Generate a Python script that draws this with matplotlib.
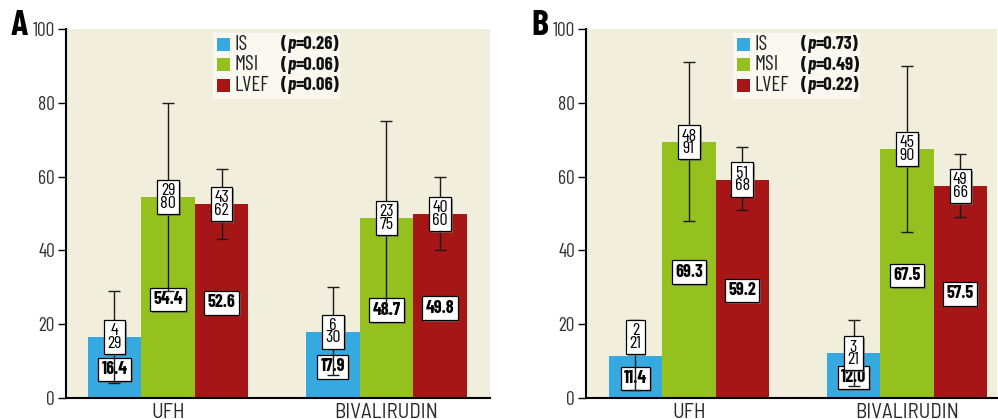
import matplotlib
matplotlib.use("Agg")
import matplotlib.pyplot as plt
import matplotlib.patheffects as pe
from matplotlib.patches import Rectangle
from matplotlib.transforms import Affine2D

plt.rcParams['font.family'] = ['Barlow Condensed', 'Liberation Sans Narrow', 'DejaVu Sans']

groups = ["UFH", "BIVALIRUDIN"]
measures = ["IS", "MSI", "LVEF"]
colors = ["#36a9e1", "#95c11f", "#a61616"]

# Panel A: median values with min / max range
a_is = [16.4, 17.9]
a_msi = [54.4, 48.7]
a_lvef = [52.6, 49.8]
a_low = [[4, 6], [29, 23], [43, 40]]
a_high = [[29, 30], [80, 75], [62, 60]]
a_p = ["0.26", "0.06", "0.06"]

# Panel B
b_is = [11.4, 12.0]
b_msi = [69.3, 67.5]
b_lvef = [59.2, 57.5]
b_low = [[2, 3], [48, 45], [51, 49]]
b_high = [[21, 21], [91, 90], [68, 66]]
b_p = ["0.73", "0.49", "0.22"]

W, H = 998, 419
fig = plt.figure(figsize=(W / 100, H / 100), dpi=100)
# figure pixels, measured from the top left corner
pix = Affine2D().scale(1 / 100, -1 / 100).translate(0, H / 100) + fig.dpi_scale_trans
renderer = fig.canvas.get_renderer()

bar_w = 0.245


def boxed(ax, x, y, s, bold, z):
    t = ax.text(x, y, s, ha="center", va="center", fontsize=13,
                fontweight="bold" if bold else "normal", linespacing=0.8,
                zorder=z, color="black",
                bbox=dict(boxstyle="square,pad=0.18", fc="white", ec="black", lw=0.9))
    t.get_bbox_patch().set_path_effects(
        [pe.SimplePatchShadow(offset=(1.3, -1.3), shadow_rgbFace="0.45", alpha=0.7), pe.Normal()])


def panel(left, right, xlim, letter, means, lows, highs, pvals, lift):
    ax = fig.add_axes([left / W, (H - 397.5) / H, (right - left) / W, 368.2 / H])
    ax.set_facecolor("#f2eedc")
    for i, vals in enumerate(means):
        xs = [g + (i - 1) * bar_w for g in range(len(groups))]
        ax.bar(xs, vals, width=bar_w, color=colors[i], zorder=2)
        for g, x in enumerate(xs):
            m = vals[g]
            ax.errorbar(x, m, yerr=[[m - lows[i][g]], [highs[i][g] - m]], fmt="none",
                        ecolor="#1a1a1a", elinewidth=1, capsize=4.5, capthick=1, zorder=4)
            boxed(ax, x, max(m / 2 - 0.6, 4.9), f"{m:.1f}", True, 3)
            boxed(ax, x, m + lift[i][g], f"{lows[i][g]}\n{highs[i][g]}", False, 5)

    ax.set_xlim(*xlim)
    ax.set_ylim(0, 100)
    ax.set_yticks(range(0, 101, 20))
    ax.set_xticks(range(len(groups)))
    ax.set_xticklabels(groups, fontsize=15, color="#2a2a2a",
                       family=["Barlow Semi Condensed", "Barlow Condensed", "DejaVu Sans"])
    ax.tick_params(axis="x", length=0, pad=4)
    ax.tick_params(axis="y", direction="out", length=6, width=1, labelsize=14,
                   labelcolor="#333333", pad=2)
    for s in ["top", "right"]:
        ax.spines[s].set_visible(False)
    for s in ["left", "bottom"]:
        ax.spines[s].set_linewidth(1.5)

    # legend
    dx = left - 66
    fig.add_artist(Rectangle((213 + dx, 99), 127, -66, transform=pix,
                             fc="#faf8f0", ec="none", zorder=6))
    for i, (name, p) in enumerate(zip(measures, pvals)):
        yc = 44.5 + i * 20.5
        fig.add_artist(Rectangle((217 + dx, yc + 6.5), 13, -13, transform=pix,
                                 fc=colors[i], ec="none", zorder=7))
        fig.text(235 + dx, yc, name, transform=pix, fontsize=15, va="center",
                 color="#222222", zorder=8)
        x0 = 281 + dx
        for piece, style in [("(", "normal"), ("p", "italic"), (f"={p})", "normal")]:
            t = fig.text(x0, yc, piece, transform=pix, fontsize=13.5, va="center",
                         fontweight="bold", fontstyle=style, color="#111111", zorder=8)
            x0 += t.get_window_extent(renderer).width

    fig.text(11 + dx, 35, letter, transform=pix, fontsize=26, fontweight="bold",
             va="baseline", ha="left")
    return ax


no_lift = [[0, 0], [0, 0], [0, 0]]
panel(66, 490, (-0.467, 1.474), "A", [a_is, a_msi, a_lvef], a_low, a_high, a_p, no_lift)
panel(586, 997, (-0.472, 1.413), "B", [b_is, b_msi, b_lvef], b_low, b_high, b_p,
      [[5, 0], [0, 0], [0, 0]])

fig.savefig("out.png", dpi=100)
